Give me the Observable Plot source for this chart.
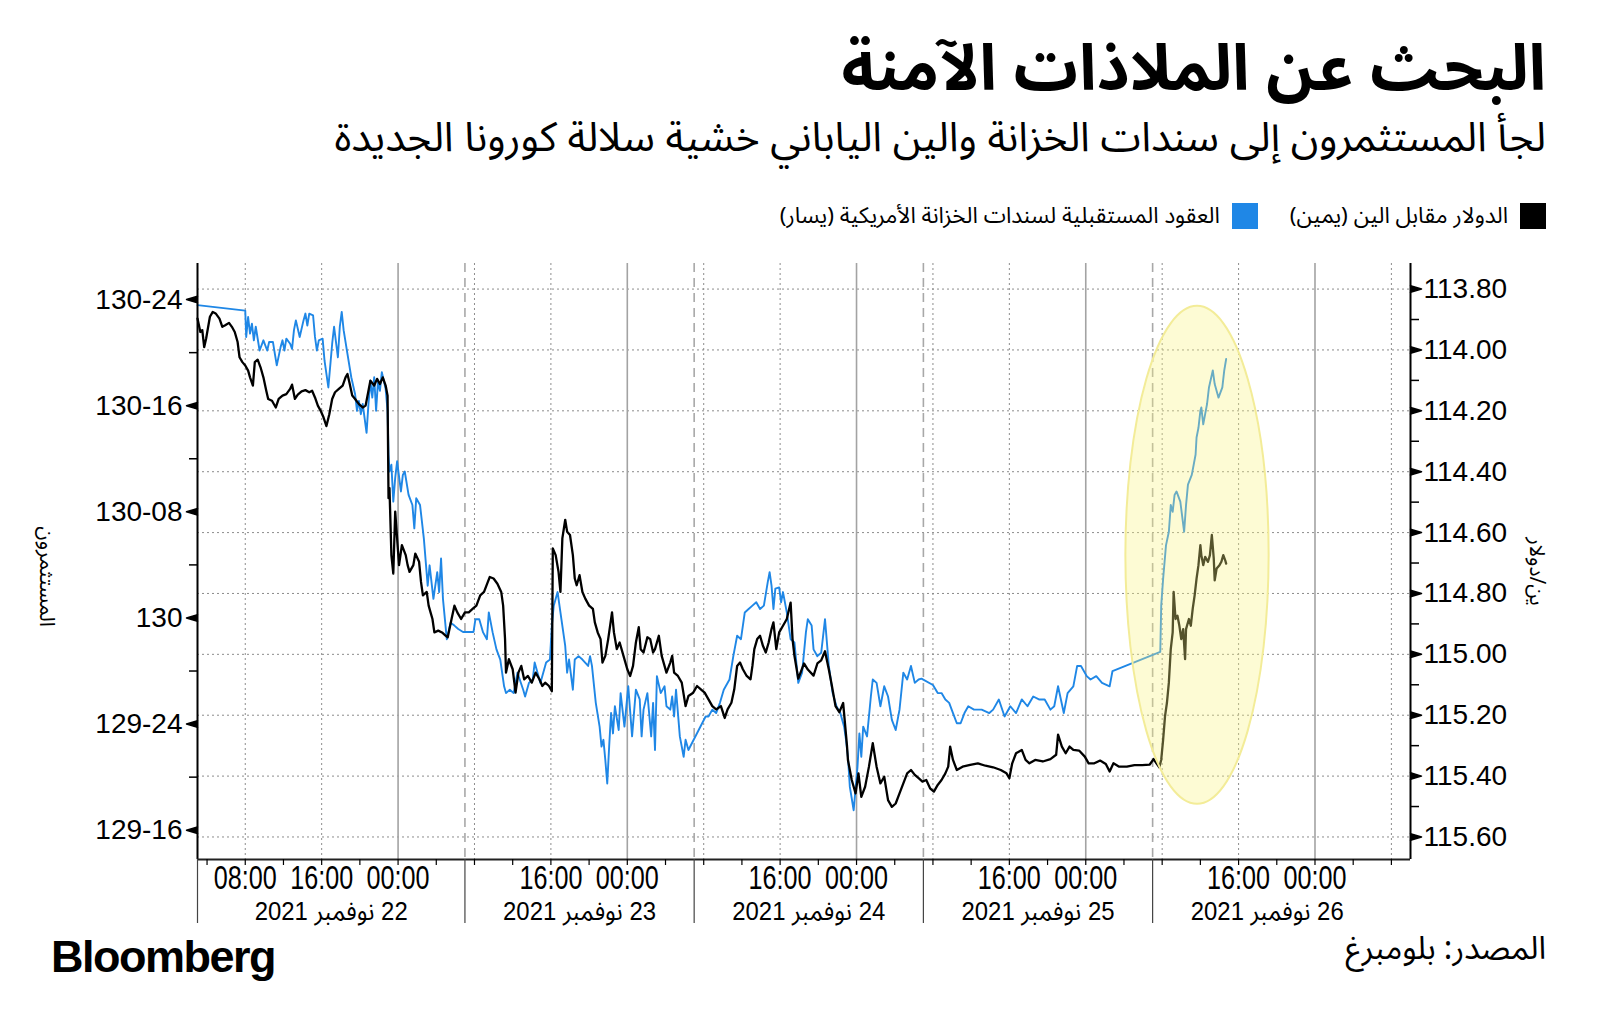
<!DOCTYPE html>
<html><head><meta charset="utf-8">
<script src="https://cdn.jsdelivr.net/npm/d3@7"></script>
<script src="https://cdn.jsdelivr.net/npm/@observablehq/plot@0.6"></script>
<style>
html,body{margin:0;padding:0;background:#fff;}
body{width:1600px;height:1036px;position:relative;overflow:hidden;font-family:"Noto Sans Arabic","DejaVu Sans",sans-serif;color:#000;}
#title{position:absolute;right:54px;top:38px;font-size:64px;font-weight:bold;direction:rtl;white-space:nowrap;line-height:1;}
#subtitle{position:absolute;right:54px;top:118px;font-size:41px;direction:rtl;white-space:nowrap;line-height:1;}
#legend{position:absolute;right:54px;top:203px;direction:rtl;display:flex;align-items:center;font-size:22.5px;white-space:nowrap;height:26px;}
#legend .item{display:flex;align-items:center;margin-left:32px;}
#legend .sw{width:26px;height:26px;display:inline-block;margin-left:12px;}
#chart{position:absolute;left:0;top:240px;}
#source{position:absolute;right:54px;top:930px;font-size:32px;direction:rtl;white-space:nowrap;line-height:1.2;}
#logo{position:absolute;left:51px;top:932px;font-size:45px;font-weight:bold;font-family:"Liberation Sans",Arial,sans-serif;letter-spacing:-1.5px;line-height:1.1;}
</style>
</head>
<body>
<div id="title">البحث عن الملاذات الآمنة</div>
<div id="subtitle">لجأ المستثمرون إلى سندات الخزانة والين الياباني خشية سلالة كورونا الجديدة</div>
<div id="legend"></div>
<div id="chart"></div>
<div id="logo">Bloomberg</div>
<div id="source">المصدر: بلومبرغ</div>
<script>
// ---------- data (hours since 22 Nov 2021 00:00) ----------
const seriesNames = ["الدولار مقابل الين (يمين)", "العقود المستقبلية لسندات الخزانة الأمريكية (يسار)"];
const seriesColors = ["#000000", "#1f87e6"];

// USD/JPY (right axis, inverted)
const usdJpy = [
[3.0,113.897],[3.3,113.941],[3.5,113.935],[3.7,113.991],[3.9,113.963],[4.3,113.891],[4.6,113.875],[4.9,113.880],[5.3,113.897],[5.6,113.924],[5.9,113.919],[6.3,113.911],[6.6,113.924],[6.9,113.941],[7.2,113.974],[7.4,114.024],[7.7,114.040],[8.0,114.051],[8.3,114.068],[8.5,114.090],[8.8,114.117],[9.0,114.040],[9.3,114.032],[9.6,114.057],[9.9,114.090],[10.2,114.134],[10.4,114.161],[10.8,114.167],[11.2,114.189],[11.5,114.161],[11.9,114.150],[12.3,114.145],[12.7,114.128],[12.9,114.114],[13.2,114.161],[13.5,114.147],[13.9,114.136],[14.3,114.132],[14.7,114.139],[15.0,114.134],[15.3,114.156],[15.6,114.183],[15.9,114.200],[16.2,114.222],[16.5,114.250],[16.8,114.211],[17.1,114.161],[17.4,114.139],[17.8,114.128],[18.2,114.117],[18.5,114.090],[18.7,114.079],[18.9,114.106],[19.2,114.150],[19.5,114.161],[19.9,114.178],[20.3,114.189],[20.6,114.183],[20.9,114.134],[21.1,114.101],[21.5,114.117],[21.8,114.095],[22.1,114.112],[22.4,114.090],[22.7,114.117],[22.9,114.150],[23.0,114.487],[23.1,114.454],[23.3,114.674],[23.5,114.735],[23.7,114.531],[23.9,114.619],[24.1,114.707],[24.4,114.641],[24.8,114.674],[25.0,114.707],[25.2,114.729],[25.6,114.707],[25.8,114.669],[26.2,114.696],[26.4,114.762],[26.6,114.806],[27.0,114.795],[27.2,114.840],[27.4,114.862],[27.6,114.884],[27.8,114.928],[28.2,114.922],[28.6,114.928],[29.0,114.939],[29.2,114.944],[29.6,114.884],[29.9,114.840],[30.2,114.862],[30.6,114.884],[31.0,114.862],[31.4,114.862],[31.8,114.851],[32.2,114.840],[32.6,114.806],[33.0,114.795],[33.4,114.762],[33.6,114.746],[34.0,114.751],[34.4,114.768],[34.8,114.795],[35.0,114.840],[35.2,114.950],[35.3,115.060],[35.6,115.016],[36.0,115.049],[36.3,115.126],[36.6,115.060],[36.9,115.038],[37.2,115.082],[37.6,115.071],[38.0,115.093],[38.4,115.060],[38.8,115.082],[39.1,115.104],[39.4,115.093],[39.8,115.104],[40.1,115.121],[40.2,114.652],[40.5,114.674],[40.8,114.729],[41.0,114.795],[41.2,114.619],[41.5,114.558],[41.7,114.597],[42.0,114.608],[42.3,114.674],[42.5,114.751],[42.7,114.773],[43.0,114.740],[43.3,114.795],[43.6,114.817],[44.0,114.840],[44.4,114.851],[44.6,114.895],[44.9,114.928],[45.2,114.950],[45.4,115.027],[45.7,115.005],[46.0,114.950],[46.4,114.862],[46.6,114.928],[46.9,114.983],[47.2,114.961],[47.6,115.005],[48.0,115.049],[48.3,115.071],[48.6,115.038],[48.9,114.961],[49.2,114.911],[49.4,114.983],[49.7,114.994],[50.1,114.944],[50.4,114.950],[50.7,114.994],[50.9,114.983],[51.3,114.939],[51.6,115.005],[52.1,115.060],[52.5,115.027],[52.7,115.005],[52.9,115.060],[53.3,115.071],[53.7,115.093],[54.1,115.170],[54.4,115.137],[54.9,115.126],[55.3,115.104],[55.7,115.115],[56.1,115.126],[56.5,115.148],[56.9,115.170],[57.3,115.181],[57.8,115.170],[58.2,115.209],[58.5,115.181],[58.9,115.159],[59.2,115.115],[59.5,115.038],[59.8,115.027],[60.1,115.049],[60.5,115.071],[60.9,115.082],[61.1,115.038],[61.3,114.983],[61.6,114.950],[61.9,114.939],[62.2,114.972],[62.5,114.994],[62.8,114.961],[63.1,114.917],[63.3,114.895],[63.6,114.983],[63.9,114.928],[64.3,114.906],[64.7,114.884],[65.1,114.830],[65.3,114.950],[65.5,115.005],[65.9,115.080],[66.5,115.030],[66.9,115.050],[67.5,115.070],[67.9,115.030],[68.3,115.020],[68.7,114.990],[69.1,115.050],[69.4,115.100],[69.8,115.170],[70.2,115.190],[70.6,115.160],[71.0,115.300],[71.1,115.347],[71.5,115.413],[71.9,115.457],[72.2,115.391],[72.5,115.468],[72.9,115.435],[73.3,115.369],[73.7,115.292],[74.1,115.369],[74.5,115.424],[74.9,115.402],[75.3,115.479],[75.7,115.501],[76.1,115.490],[76.5,115.457],[76.9,115.424],[77.3,115.391],[77.7,115.380],[78.1,115.396],[78.5,115.407],[78.9,115.418],[79.3,115.413],[79.7,115.440],[80.1,115.451],[80.5,115.429],[80.9,115.413],[81.3,115.391],[81.6,115.369],[81.8,115.303],[82.1,115.347],[82.5,115.380],[83.1,115.369],[83.9,115.363],[84.7,115.358],[85.5,115.366],[86.3,115.371],[87.1,115.380],[87.7,115.391],[88.0,115.407],[88.3,115.358],[88.7,115.325],[89.3,115.314],[89.7,115.347],[90.1,115.358],[90.7,115.347],[91.5,115.352],[92.3,115.344],[92.9,115.330],[93.1,115.264],[93.5,115.303],[93.9,115.325],[94.3,115.303],[94.7,115.314],[95.3,115.316],[95.9,115.336],[96.3,115.358],[96.9,115.358],[97.5,115.349],[98.1,115.360],[98.5,115.385],[98.9,115.358],[99.5,115.369],[100.3,115.369],[101.1,115.364],[101.9,115.364],[102.7,115.362],[103.1,115.344],[103.4,115.358],[103.7,115.371],[103.9,115.347],[104.1,115.281],[104.3,115.203],[104.5,115.159],[104.7,115.093],[104.9,114.983],[105.1,114.928],[105.2,114.795],[105.4,114.884],[105.6,114.873],[105.8,114.906],[106.0,114.950],[106.2,114.917],[106.4,115.016],[106.5,114.917],[106.8,114.884],[107.0,114.906],[107.2,114.850],[107.4,114.806],[107.6,114.751],[107.8,114.707],[108.0,114.641],[108.1,114.674],[108.3,114.707],[108.5,114.680],[108.8,114.696],[109.0,114.674],[109.2,114.608],[109.4,114.685],[109.5,114.757],[109.7,114.718],[110.0,114.707],[110.2,114.696],[110.4,114.674],[110.6,114.691],[110.7,114.702]
];

// US Treasury futures (left axis, decimal points)
const tyFutures = [
[3.0,130.737],[8.0,130.724],[8.1,130.662],[8.3,130.709],[8.5,130.670],[8.7,130.693],[8.9,130.654],[9.1,130.686],[9.5,130.630],[9.9,130.654],[10.3,130.630],[10.5,130.650],[10.9,130.650],[11.1,130.622],[11.3,130.595],[11.7,130.638],[11.9,130.654],[12.1,130.630],[12.3,130.658],[12.7,130.646],[12.9,130.634],[13.1,130.678],[13.3,130.701],[13.7,130.662],[14.1,130.701],[14.3,130.717],[14.5,130.689],[14.7,130.717],[15.1,130.713],[15.3,130.662],[15.5,130.630],[15.7,130.654],[16.1,130.658],[16.3,130.606],[16.7,130.543],[17.1,130.646],[17.3,130.686],[17.7,130.614],[17.9,130.686],[18.1,130.721],[18.3,130.678],[18.7,130.622],[19.1,130.567],[19.5,130.527],[19.7,130.488],[19.9,130.511],[20.1,130.480],[20.3,130.504],[20.7,130.436],[20.9,130.504],[21.1,130.559],[21.3,130.519],[21.5,130.567],[21.7,130.488],[21.9,130.559],[22.1,130.535],[22.3,130.579],[22.5,130.559],[22.7,130.539],[22.9,130.488],[23.0,130.385],[23.1,130.345],[23.3,130.361],[23.5,130.274],[23.7,130.330],[23.9,130.369],[24.3,130.298],[24.5,130.337],[24.7,130.345],[25.1,130.290],[25.5,130.266],[25.7,130.211],[25.9,130.282],[26.3,130.266],[26.7,130.187],[27.1,130.076],[27.3,130.124],[27.7,130.045],[28.1,130.108],[28.3,130.061],[28.5,130.140],[28.7,130.045],[29.1,129.950],[29.5,129.989],[29.9,129.982],[30.3,129.974],[30.8,129.967],[31.9,129.967],[32.1,129.997],[32.5,129.997],[32.9,129.966],[33.3,129.950],[33.5,130.013],[33.9,129.966],[34.3,129.926],[34.7,129.902],[35.1,129.839],[35.3,129.823],[35.7,129.831],[36.1,129.823],[36.5,129.871],[37.1,129.831],[37.3,129.815],[37.7,129.847],[38.1,129.855],[38.3,129.895],[38.9,129.847],[39.5,129.895],[39.9,129.902],[40.1,129.982],[40.3,130.029],[40.7,130.061],[41.1,129.997],[41.5,129.934],[41.7,129.871],[41.9,129.902],[42.3,129.831],[42.5,129.902],[42.9,129.910],[43.3,129.902],[43.9,129.887],[44.1,129.910],[44.3,129.887],[44.7,129.800],[45.1,129.744],[45.3,129.697],[45.5,129.713],[45.7,129.665],[45.9,129.610],[46.1,129.697],[46.3,129.776],[46.5,129.728],[46.7,129.792],[47.1,129.736],[47.3,129.823],[47.7,129.744],[48.1,129.839],[48.5,129.721],[48.9,129.831],[49.3,129.808],[49.5,129.721],[49.7,129.784],[50.1,129.823],[50.5,129.721],[50.7,129.800],[50.9,129.689],[51.1,129.863],[51.5,129.823],[51.9,129.839],[52.1,129.792],[52.5,129.784],[52.7,129.815],[52.9,129.768],[53.1,129.831],[53.5,129.721],[53.9,129.673],[54.1,129.713],[54.4,129.689],[56.2,129.768],[56.5,129.768],[56.9,129.784],[57.3,129.776],[57.7,129.800],[58.1,129.831],[58.7,129.855],[59.1,129.910],[59.5,129.958],[59.9,129.950],[60.3,130.013],[60.7,130.021],[61.1,130.029],[61.5,130.037],[61.9,130.021],[62.3,130.029],[62.7,130.084],[62.9,130.108],[63.1,130.076],[63.3,130.021],[63.5,130.069],[63.9,130.072],[64.1,130.037],[64.3,130.061],[64.7,130.013],[65.1,129.950],[65.5,129.942],[65.9,129.847],[66.3,129.871],[66.7,129.966],[66.9,129.997],[67.3,129.982],[67.5,129.926],[67.9,129.910],[68.3,129.918],[68.7,129.997],[69.1,129.887],[69.5,129.823],[69.9,129.792],[70.3,129.776],[70.7,129.744],[70.9,129.713],[71.1,129.673],[71.3,129.602],[71.7,129.547],[72.1,129.649],[72.3,129.728],[72.5,129.673],[72.7,129.744],[73.1,129.721],[73.5,129.815],[73.7,129.855],[74.1,129.847],[74.5,129.792],[74.9,129.839],[75.3,129.815],[75.7,129.760],[76.1,129.736],[76.5,129.784],[76.9,129.871],[77.3,129.855],[77.7,129.887],[78.1,129.847],[78.5,129.855],[78.8,129.857],[80.0,129.842],[80.5,129.823],[80.9,129.823],[81.3,129.808],[81.7,129.800],[82.1,129.776],[82.5,129.752],[82.9,129.752],[83.3,129.776],[83.7,129.792],[84.3,129.784],[85.1,129.784],[85.9,129.776],[86.3,129.784],[86.9,129.808],[87.5,129.768],[88.1,129.792],[88.7,129.776],[89.3,129.808],[89.9,129.792],[90.5,129.815],[91.1,129.808],[91.7,129.808],[92.3,129.784],[92.7,129.792],[93.1,129.839],[93.7,129.776],[94.1,129.823],[94.7,129.839],[95.1,129.887],[95.5,129.887],[96.1,129.863],[96.5,129.855],[97.1,129.863],[97.7,129.847],[98.1,129.843],[98.5,129.839],[98.8,129.875],[103.8,129.920],[103.9,130.029],[104.1,130.092],[104.4,130.171],[104.7,130.203],[104.9,130.266],[105.1,130.250],[105.3,130.290],[105.5,130.298],[105.9,130.274],[106.3,130.203],[106.5,130.266],[106.7,130.314],[107.1,130.337],[107.3,130.361],[107.5,130.385],[107.6,130.425],[107.8,130.448],[108.0,130.488],[108.1,130.496],[108.3,130.456],[108.5,130.480],[108.7,130.504],[108.9,130.543],[109.3,130.583],[109.5,130.551],[109.9,130.519],[110.3,130.543],[110.5,130.583],[110.7,130.610]
];

// axes / ticks
const bondTicks = [129.5, 129.75, 130, 130.25, 130.5, 130.75];
const bondMinorTicks = [129.625, 129.875, 130.125, 130.375, 130.625];
const yenTicks = [113.8, 114.0, 114.2, 114.4, 114.6, 114.8, 115.0, 115.2, 115.4, 115.6];
const yenMinorTicks = [113.9, 114.1, 114.3, 114.5, 114.7, 114.9, 115.1, 115.3, 115.5];
const timeLabelHours = [8, 16, 24, 40, 48, 64, 72, 88, 96, 112, 120];
const dottedHours = [8, 16, 32, 40, 56, 64, 80, 88, 104, 112, 128];
const midnightHours = [24, 48, 72, 96, 120];
const sessionBreakHours = [31, 55, 79, 103];
const sessions = [
  {label: "22 نوفمبر 2021", start: -17, end: 31},
  {label: "23 نوفمبر 2021", start: 31, end: 55},
  {label: "24 نوفمبر 2021", start: 55, end: 79},
  {label: "25 نوفمبر 2021", start: 79, end: 103},
  {label: "26 نوفمبر 2021", start: 103, end: 127}
];
const xDomainHours = [3, 130];
const bondDomain = [129.431, 130.835];
const yenDomain = [115.674, 113.716];
const highlight = {t0: 100.2, t1: 115.2, top: 130.734, bottom: 129.561};
const leftTitle = "المستثمرون";
const rightTitle = "ين/دولار";

// ---------- helpers ----------
const base = Date.UTC(2021, 10, 22);
const toDate = h => new Date(base + h * 3600e3);
const yenToBond = d3.scaleLinear().domain(yenDomain).range(bondDomain);
const fmt32 = v => {
  const whole = Math.floor(v + 1e-9);
  const n = Math.round((v - whole) * 32);
  return n === 0 ? String(whole) : `${whole}-${String(n).padStart(2, "0")}`;
};
const fourHourly = d3.range(4, 130, 4);
const bondData = tyFutures.map(([h, v]) => ({date: toDate(h), value: v}));
const yenData = usdJpy.map(([h, v]) => ({date: toDate(h), value: v}));
const sessionData = sessions.map(s => ({label: "\u200F" + s.label, mid: toDate((Math.max(s.start, xDomainHours[0]) + Math.min(s.end, xDomainHours[1])) / 2)}));

// legend
const legend = document.getElementById("legend");
seriesNames.forEach((name, i) => {
  const item = document.createElement("div");
  item.className = "item";
  item.innerHTML = `<span class="sw" style="background:${seriesColors[i]}"></span><span>${name}</span>`;
  legend.appendChild(item);
});

const highlightMark = (index, scales) => {
  const x0 = scales.x(toDate(highlight.t0)), x1 = scales.x(toDate(highlight.t1));
  const y0 = scales.y(highlight.top), y1 = scales.y(highlight.bottom);
  return d3.create("svg:ellipse")
    .attr("cx", (x0 + x1) / 2).attr("cy", (y0 + y1) / 2)
    .attr("rx", Math.abs(x1 - x0) / 2).attr("ry", Math.abs(y1 - y0) / 2)
    .attr("fill", "rgb(250,242,130)").attr("fill-opacity", 0.34)
    .attr("stroke", "#f3ec98").attr("stroke-width", 2).node();
};

const tickFont = "'Liberation Sans',Arial,sans-serif";
const arFont = "'Liberation Sans','Noto Sans Arabic','DejaVu Sans',sans-serif";
const titleFont = "'Noto Sans Arabic','DejaVu Sans',sans-serif";

const chart = Plot.plot({
  width: 1600,
  height: 700,
  marginTop: 23,
  marginBottom: 81,
  marginLeft: 197,
  marginRight: 190,
  style: {fontFamily: tickFont, fontSize: "28px", color: "#000", overflow: "visible", background: "transparent"},
  x: {type: "utc", domain: xDomainHours.map(toDate)},
  y: {domain: bondDomain},
  marks: [
    Plot.ruleY(yenTicks, {y: d => yenToBond(d), stroke: "#8c8c8c", strokeWidth: 1, strokeDasharray: "2,3"}),
    Plot.ruleX(dottedHours.map(toDate), {stroke: "#8c8c8c", strokeWidth: 1, strokeDasharray: "2,3"}),
    Plot.ruleX(midnightHours.map(toDate), {stroke: "#a3a3a3", strokeWidth: 1.6}),
    Plot.ruleX(sessionBreakHours.map(toDate), {stroke: "#a8a8a8", strokeWidth: 1.6, strokeDasharray: "9,6"}),
    Plot.line(bondData, {x: "date", y: "value", stroke: seriesColors[1], strokeWidth: 1.9}),
    Plot.line(yenData, {x: "date", y: d => yenToBond(d.value), stroke: seriesColors[0], strokeWidth: 2.3}),
    highlightMark,
    // axis lines
    Plot.ruleX([toDate(xDomainHours[0]), toDate(xDomainHours[1])], {stroke: "#000", strokeWidth: 2}),
    Plot.ruleY([bondDomain[0]], {stroke: "#222", strokeWidth: 2}),
    // left axis
    Plot.axisY(bondMinorTicks, {anchor: "left", tickSize: 8, tickFormat: () => "", strokeWidth: 1.5, label: null}),
    Plot.vector(bondTicks, {y: d => d, frameAnchor: "left", rotate: -90, length: 11, shape: "spike", r: 3.3, anchor: "start", fill: "#000", stroke: "#000"}),
    Plot.text(bondTicks, {y: d => d, frameAnchor: "left", text: fmt32, textAnchor: "end", dx: -15, fontSize: 28}),
    // right axis
    Plot.axisY(yenMinorTicks.map(d => yenToBond(d)), {anchor: "right", tickSize: 8, tickFormat: () => "", strokeWidth: 1.5, label: null}),
    Plot.vector(yenTicks, {y: d => yenToBond(d), frameAnchor: "right", rotate: 90, length: 11, shape: "spike", r: 3.3, anchor: "start", fill: "#000", stroke: "#000"}),
    Plot.text(yenTicks, {y: d => yenToBond(d), frameAnchor: "right", text: d => d.toFixed(2), textAnchor: "start", dx: 13, fontSize: 28}),
    // bottom axis
    Plot.axisX(fourHourly.map(toDate), {anchor: "bottom", tickSize: 6, tickFormat: () => "", strokeWidth: 1.2, label: null}),
    Plot.axisX([xDomainHours[0], ...sessionBreakHours].map(toDate), {anchor: "bottom", tickSize: 64, tickFormat: () => "", stroke: "#444", strokeWidth: 1.2, label: null}),
    Plot.text(timeLabelHours, {x: d => toDate(d), frameAnchor: "bottom", text: d => d3.utcFormat("%H:%M")(toDate(d)), textAnchor: "middle", lineAnchor: "middle", dy: 19, fontSize: 33, fontFamily: tickFont}),
    Plot.text(sessionData, {x: "mid", frameAnchor: "bottom", text: "label", textAnchor: "middle", lineAnchor: "middle", dy: 52, fontSize: 25, fontFamily: arFont}),
    // axis titles
    Plot.text([leftTitle], {frameAnchor: "left", text: d => d, rotate: 90, textAnchor: "middle", dx: -151, dy: 15, fontSize: 21, fontFamily: titleFont}),
    Plot.text([rightTitle], {frameAnchor: "right", text: d => d, rotate: 90, textAnchor: "middle", dx: 126, dy: 10, fontSize: 21, fontFamily: titleFont})
  ]
});
d3.select(chart).selectAll("text")
  .filter(function() { return /^\d\d:\d\d$/.test(this.textContent); })
  .attr("textLength", 63).attr("lengthAdjust", "spacingAndGlyphs");
d3.select(chart).selectAll("text")
  .filter(function() { return this.textContent.includes("نوفمبر"); })
  .attr("textLength", 153).attr("lengthAdjust", "spacingAndGlyphs");
document.getElementById("chart").appendChild(chart);
</script>
</body></html>
